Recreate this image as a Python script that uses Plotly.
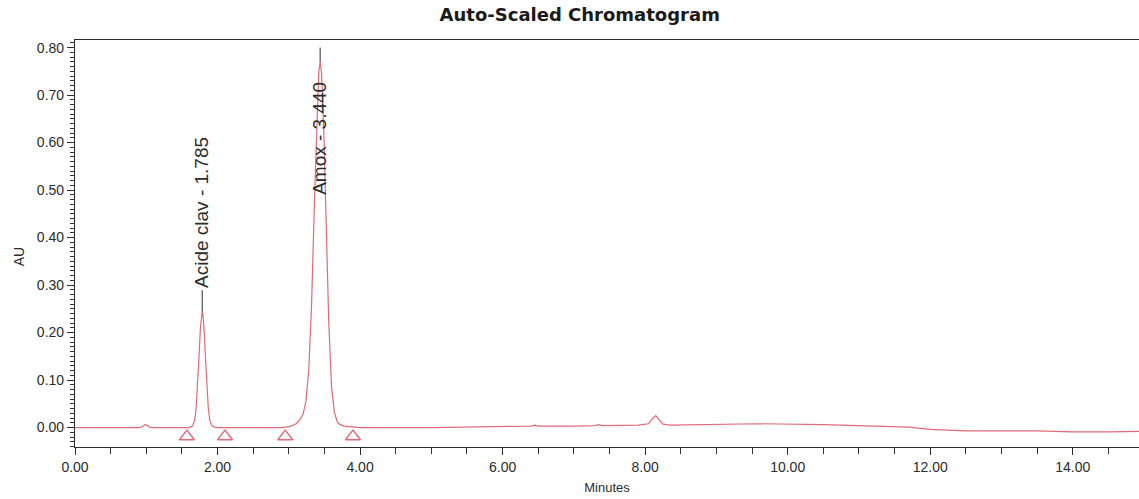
import plotly.graph_objects as go

# ---- data ----
time_min = [0.00, 0.50, 0.90, 0.95, 0.98, 1.01, 1.05, 1.10, 1.40, 1.60, 1.65, 1.68, 1.70, 1.72, 1.74,
            1.76, 1.775, 1.785, 1.795, 1.81, 1.83, 1.85, 1.87, 1.89, 1.92, 1.96, 2.00, 2.50, 2.90,
            3.00, 3.05, 3.10, 3.15, 3.20, 3.24, 3.28, 3.32, 3.36, 3.39, 3.42, 3.44, 3.46, 3.49,
            3.52, 3.56, 3.60, 3.64, 3.68, 3.72, 3.78, 3.85, 3.95, 4.00, 5.00, 5.50, 6.00, 6.40,
            6.45, 6.50, 7.00, 7.30, 7.35, 7.40, 7.90, 8.05, 8.10, 8.15, 8.20, 8.25, 8.35, 9.00,
            9.60, 10.50, 11.50, 11.70, 12.00, 12.50, 13.50, 14.00, 14.50, 15.00]
au = [0.000, 0.000, 0.000, 0.002, 0.006, 0.005, 0.001, 0.000, 0.000, 0.000, 0.003, 0.016, 0.041, 0.087, 0.149,
      0.210, 0.239, 0.245, 0.239, 0.210, 0.149, 0.087, 0.041, 0.016, 0.004, 0.001, 0.000, 0.000, 0.000,
      0.002, 0.004, 0.008, 0.015, 0.028, 0.055, 0.120, 0.260, 0.475, 0.640, 0.748, 0.770, 0.746, 0.630,
      0.450, 0.225, 0.085, 0.032, 0.012, 0.006, 0.003, 0.002, 0.001, 0.000, 0.000, 0.001, 0.002, 0.003,
      0.005, 0.003, 0.003, 0.004, 0.006, 0.004, 0.005, 0.008, 0.018, 0.025, 0.016, 0.007, 0.005, 0.006,
      0.008, 0.006, 0.003, 0.001, -0.004, -0.007, -0.007, -0.009, -0.009, -0.008]

peak_names = ["Acide clav", "Amox"]
peak_rt = [1.785, 3.440]
peak_apex = [0.245, 0.770]
peak_label_base = [0.289, 0.485]   # AU level where each label starts
peak_tick_top = [0.289, 0.800]     # AU level of the top of each apex tick

marker_times = [1.57, 2.105, 2.95, 3.90]
marker_level = -0.019

PINK = "#e06b78"
DARK = "#2b2b2b"
FONT = "Liberation Sans, Arial, sans-serif"

fig = go.Figure()

fig.add_trace(go.Scatter(x=time_min, y=au, mode="lines",
                         line=dict(color=PINK, width=1.2), hoverinfo="skip", showlegend=False))

for rt, apex, top in zip(peak_rt, peak_apex, peak_tick_top):
    fig.add_trace(go.Scatter(x=[rt, rt], y=[apex, top], mode="lines",
                             line=dict(color=DARK, width=1), showlegend=False, hoverinfo="skip"))

fig.add_trace(go.Scatter(x=marker_times, y=[marker_level] * len(marker_times), mode="markers",
                         marker=dict(symbol="triangle-up-open", size=13, color=PINK,
                                     line=dict(color=PINK, width=1.4)),
                         showlegend=False, hoverinfo="skip"))

for name, rt, base in zip(peak_names, peak_rt, peak_label_base):
    fig.add_annotation(x=rt, y=base, xref="x", yref="y", text=f"{name} - {rt:.3f}",
                       textangle=-90, showarrow=False, xanchor="center", yanchor="bottom",
                       font=dict(family=FONT, size=19, color=DARK))

fig.add_annotation(x=-0.0526, y=0.466, xref="paper", yref="paper", text="AU", textangle=-90,
                   showarrow=False, xanchor="center", yanchor="middle",
                   font=dict(family=FONT, size=14, color=DARK))

fig.update_layout(
    width=1139, height=499,
    margin=dict(l=75, r=0, t=40, b=52),
    paper_bgcolor="white", plot_bgcolor="white",
    title=dict(text="<b>Auto-Scaled Chromatogram</b>", x=0.509, y=0.97, xref="container",
               yref="container", xanchor="center", yanchor="middle",
               font=dict(family="DejaVu Sans, sans-serif", size=18, color="#1a1a1a")),
    xaxis=dict(range=[0, 14.93], dtick=2, tickformat=".2f",
               showgrid=False, zeroline=False, showline=True, linecolor=DARK, linewidth=1.2,
               mirror=True, ticks="outside", ticklen=7, tickcolor=DARK, tickwidth=1,
               minor=dict(dtick=0.5, ticks="outside", ticklen=6, tickcolor="#333333", showgrid=False),
               tickfont=dict(family=FONT, size=14, color=DARK),
               title=dict(text="Minutes", font=dict(family=FONT, size=13, color=DARK), standoff=8)),
    yaxis=dict(range=[-0.041, 0.816], dtick=0.1, tickformat=".2f",
               showgrid=False, zeroline=False, showline=True, linecolor=DARK, linewidth=1.2,
               mirror=False, ticks="outside", ticklen=7, tickcolor=DARK, tickwidth=1,
               minor=dict(dtick=0.01, ticks="outside", ticklen=4, tickcolor="#333333", showgrid=False),
               tickfont=dict(family=FONT, size=14, color=DARK)),
)

fig.write_html("out.html")
